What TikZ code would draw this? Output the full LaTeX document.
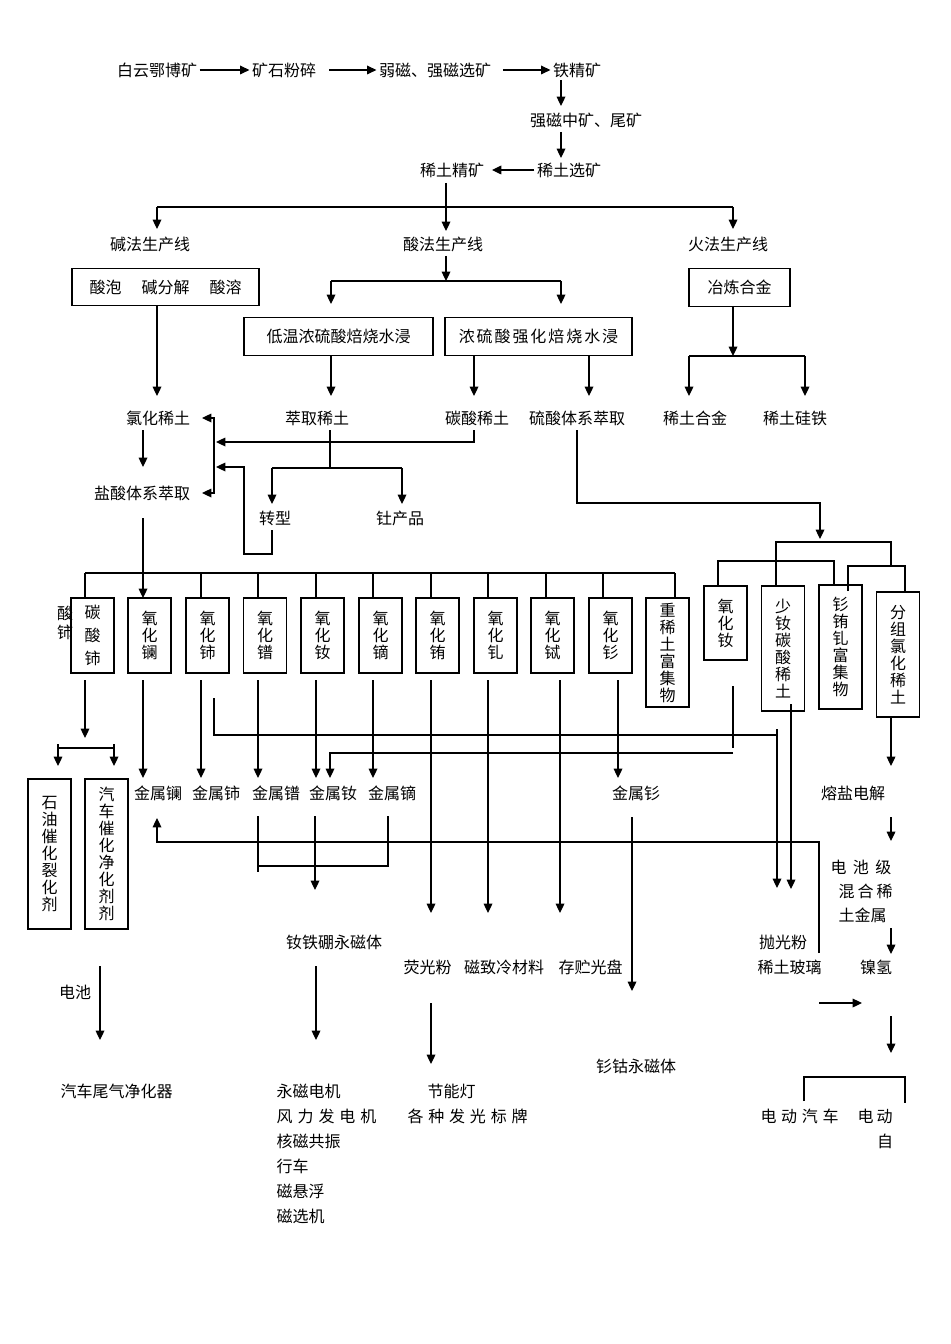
\documentclass[tikz,border=0pt]{standalone}
\usepackage{fontspec}
\setmainfont{Noto Sans CJK SC}
\usetikzlibrary{arrows.meta}
\newcommand{\ls}[1]{\addfontfeatures{LetterSpace=#1}}

\begin{document}
\begin{tikzpicture}[x=0.75pt, y=-0.75pt, line width=0.9pt,
    font=\fontsize{12}{12.75}\selectfont,
    arr/.style={-{Triangle[length=7pt,width=6.5pt]}},
    lbl/.style={inner sep=1.5pt},
    hbox/.style={draw, inner sep=0pt, minimum height=28pt},
    vbox/.style={draw, inner sep=0pt, minimum width=32.25pt, align=center}]
\useasboundingbox (0,0) rectangle (950,1344);

% ore dressing
\draw (157,70) node[lbl] (bai) {白云鄂博矿};
\draw (284,70) node[lbl] (fensui) {矿石粉碎};
\draw (435,70) node[lbl] (cixuan) {弱磁、强磁选矿};
\draw (577,70) node[lbl] (tiejing) {铁精矿};
\draw (586,120) node[lbl] (weikuang) {强磁中矿、尾矿};
\draw (569,170) node[lbl] (xuankuang) {稀土选矿};
\draw (452,170) node[lbl] (jingkuang) {稀土精矿};

\draw[arr] (bai) -- (fensui);
\draw[arr, shorten <=8pt] (fensui) -- (cixuan);
\draw[arr, shorten <=7pt] (cixuan) -- (tiejing);
\draw[arr] (561,80) -- (561,106);
\draw[arr] (561,132) -- (561,158);
\draw[arr, shorten >=4pt] (xuankuang) -- (jingkuang);

% three lines
\draw (150,244) node[lbl] (jianfa) {碱法生产线};
\draw (443,244) node[lbl] (suanfa) {酸法生产线};
\draw (728,244) node[lbl] (huofa) {火法生产线};

\draw (446,183) -- (446,207);
\draw (157,207) -- (733,207);
\draw[arr] (446,207) -- (446,231);
\draw[arr] (157,207) -- (157,229);
\draw[arr] (733,207) -- (733,229);

\draw (165.5,287) node[hbox, minimum width=140.25pt] (jianbox) {酸泡\hspace{15pt}碱分解\hspace{15pt}酸溶};
\draw (338.5,336.5) node[hbox, minimum width=141.75pt] (diwen) {低温浓硫酸焙烧水浸};
\draw (538.5,336.5) node[hbox, minimum width=140.25pt] (qianghua) {\ls{12}浓硫酸强化焙烧水浸};
\draw (739.5,287.5) node[hbox, minimum width=75.75pt] (yelian) {冶炼合金};

\draw[arr] (446,256) -- (446,281);
\draw (331,281) -- (561,281);
\draw[arr] (331,281) -- (331,304);
\draw[arr] (561,281) -- (561,304);
\draw[arr] (733,306) -- (733,356);
\draw (689,356) -- (805,356);
\draw[arr] (689,356) -- (689,396);
\draw[arr] (805,356) -- (805,396);
\draw[arr] (157,306) -- (157,396);
\draw[arr] (331,355) -- (331,396);
\draw[arr] (474,355) -- (474,396);
\draw[arr] (589,355) -- (589,396);

% leaching products
\draw (158,418) node[lbl] (lvhua) {氯化稀土};
\draw (317,418) node[lbl] (cuiqu) {萃取稀土};
\draw (477,418) node[lbl] (tansuan) {碳酸稀土};
\draw (577,418) node[lbl] (liusuan) {硫酸体系萃取};
\draw (695,418) node[lbl] (hejin) {稀土合金};
\draw (795,418) node[lbl] (guitie) {稀土硅铁};
\draw (142,493) node[lbl] (yansuan) {盐酸体系萃取};
\draw (275,518) node[lbl] (zhuanxing) {转型};
\draw (400,518) node[lbl] (tu) {钍产品};

\draw[{Triangle[length=7pt,width=6.5pt]}-{Triangle[length=7pt,width=6.5pt]}] (202,418) -- (214,418) -- (214,493) -- (202,493);
\draw[arr] (474,430) -- (474,442) -- (216,442);
\draw (330,430) -- (330,468);
\draw (272,468) -- (402,468);
\draw[arr] (272,468) -- (272,504);
\draw[arr] (402,468) -- (402,504);
\draw[arr] (272,530) -- (272,554) -- (244,554) -- (244,467) -- (216,467);
\draw[arr] (143,430) -- (143,467);
\draw[arr] (143,518) -- (143,598);

% separated oxides
\draw (65,622.5) node[lbl, align=center, font=\fontsize{12}{14.25}\selectfont] (suanshi) {酸\\铈};
\draw (92.5,635.5) node[vbox, minimum height=56.25pt, font=\fontsize{12}{17.25}\selectfont] (tanshi) {碳\\酸\\铈};
\draw (149.5,635.5) node[vbox, minimum height=56.25pt] (yla) {氧\\化\\镧};
\draw (207.5,635.5) node[vbox, minimum height=56.25pt] (yce) {氧\\化\\铈};
\draw (265,635.5) node[vbox, minimum height=56.25pt] (ypr) {氧\\化\\镨};
\draw (322.5,635.5) node[vbox, minimum height=56.25pt] (ynd) {氧\\化\\钕};
\draw (380.5,635.5) node[vbox, minimum height=56.25pt] (ydy) {氧\\化\\镝};
\draw (437.5,635.5) node[vbox, minimum height=56.25pt] (yeu) {氧\\化\\铕};
\draw (495.5,635.5) node[vbox, minimum height=56.25pt] (ygd) {氧\\化\\钆};
\draw (552.5,635.5) node[vbox, minimum height=56.25pt] (ytb) {氧\\化\\铽};
\draw (610.5,635.5) node[vbox, minimum height=56.25pt] (ysm) {氧\\化\\钐};
\draw (667.5,652.5) node[vbox, minimum height=81.75pt] (zhong) {重\\稀\\土\\富\\集\\物};
\draw (725.5,623) node[vbox, minimum height=55.5pt] (yndb) {氧\\化\\钕};
\draw (783,648.5) node[vbox, minimum height=93.75pt] (shaond) {少\\钕\\碳\\酸\\稀\\土};
\draw (840.5,647) node[vbox, minimum height=93pt] (fuji) {钐\\铕\\钆\\富\\集\\物};
\draw (898,654.5) node[vbox, minimum height=93.75pt] (fenzu) {分\\组\\氯\\化\\稀\\土};

\draw (85,573) -- (675,573);
\draw (85,573) -- (85,598);
\draw (201,573) -- (201,598);
\draw (258,573) -- (258,598);
\draw (316,573) -- (316,598);
\draw (373,573) -- (373,598);
\draw (431,573) -- (431,598);
\draw (488,573) -- (488,598);
\draw (546,573) -- (546,598);
\draw (603,573) -- (603,598);
\draw (675,573) -- (675,598);

\draw[arr] (577,430) -- (577,503) -- (820,503) -- (820,539);
\draw (776,586) -- (776,542) -- (891,542) -- (891,566);
\draw (848,591) -- (848,566) -- (905,566) -- (905,592);
\draw (718,586) -- (718,561) -- (834,561) -- (834,584);

% metals
\draw (158,793) node[lbl] (jla) {金属镧};
\draw (216,793) node[lbl] (jce) {金属铈};
\draw (276,793) node[lbl] (jpr) {金属镨};
\draw (333,793) node[lbl] (jnd) {金属钕};
\draw (392,793) node[lbl] (jdy) {金属镝};
\draw (636,793) node[lbl] (jsm) {金属钐};
\draw (853,793) node[lbl] (rongyan) {熔盐电解};

\draw[arr] (85,680) -- (85,738);
\draw (58,748) -- (114,748);
\draw[arr] (58,744) -- (58,766);
\draw[arr] (114,744) -- (114,766);
\draw[arr] (143,680) -- (143,778);
\draw[arr] (201,680) -- (201,778);
\draw[arr] (258,680) -- (258,778);
\draw[arr] (316,680) -- (316,778);
\draw[arr] (373,680) -- (373,778);
\draw[arr] (431,680) -- (431,913);
\draw[arr] (488,680) -- (488,913);
\draw[arr] (560,680) -- (560,913);
\draw[arr] (618,680) -- (618,778);
\draw (214,698) -- (214,735) -- (777,735);
\draw[arr] (777,729) -- (777,888);
\draw[arr] (791,704) -- (791,889);
\draw (733,686) -- (733,748);
\draw[arr] (733,753) -- (330,753) -- (330,778);
\draw (258,816) -- (258,872);
\draw (388,816) -- (388,866) -- (258,866);
\draw[arr] (315,816) -- (315,890);
\draw[arr] (819,953) -- (819,842) -- (157,842) -- (157,818);
\draw[arr] (632,817) -- (632,991);
\draw[arr] (891,717) -- (891,766);
\draw[arr] (891,817) -- (891,841);

\draw (49.5,854) node[vbox, minimum height=112.5pt] (shiyou) {石\\油\\催\\化\\裂\\化\\剂};
\draw (106.5,854) node[vbox, minimum height=112.5pt] (qiche) {汽\\车\\催\\化\\净\\化\\剂\\剂};

% applications
\draw (334,942) node[lbl] (ndfeb) {钕铁硼永磁体};
\draw (427.5,967) node[lbl] (yingguang) {荧光粉};
\draw (504,967) node[lbl] (cizhi) {磁致冷材料};
\draw (590.5,967) node[lbl] (cunchu) {存贮光盘};
\draw (783,942) node[lbl] (paoguang) {抛光粉};
\draw (789.5,967) node[lbl] (boli) {稀土玻璃};
\draw (828,867) node[lbl, anchor=west] (dcj1) {\ls{40}电池级};
\draw (836,891) node[lbl, anchor=west] (dcj2) {\ls{19}混合稀};
\draw (836,915) node[lbl, anchor=west] (dcj3) {土金属};
\draw (876,967) node[lbl] (nieqing) {镍氢};
\draw (75,992) node[lbl] (dianchi) {电池};
\draw (636,1066) node[lbl] (smco) {钐钴永磁体};

\draw[arr] (891,928) -- (891,954);
\draw[arr] (819,1003) -- (862,1003);
\draw[arr] (891,1016) -- (891,1053);
\draw (804,1101) -- (804,1077) -- (905,1077) -- (905,1103);
\draw[arr] (100,966) -- (100,1040);
\draw[arr] (316,966) -- (316,1040);
\draw[arr] (431,1003) -- (431,1064);

\draw (116.5,1091) node[lbl] (weiqi) {汽车尾气净化器};
\draw (274,1091) node[lbl, anchor=west] (dianji) {永磁电机};
\draw (274,1116) node[lbl, anchor=west] (fengli) {\ls{31}风力发电机};
\draw (274,1141) node[lbl, anchor=west] (hegong) {核磁共振};
\draw (274,1166) node[lbl, anchor=west] (xingche) {行车};
\draw (274,1191) node[lbl, anchor=west] (cixuanfu) {磁悬浮};
\draw (274,1216) node[lbl, anchor=west] (cixuanji) {磁选机};
\draw (451.5,1091) node[lbl] (jieneng) {节能灯};
\draw (405,1116) node[lbl, anchor=west] (biaopai) {\ls{30}各种发光标牌};
\draw (758,1116) node[lbl, anchor=west] (qichedd) {\ls{29}电动汽车};
\draw (855,1116) node[lbl, anchor=west] (diandong) {\ls{19}电动};
\draw (885,1141) node[lbl] (zi) {自};
\end{tikzpicture}
\end{document}
